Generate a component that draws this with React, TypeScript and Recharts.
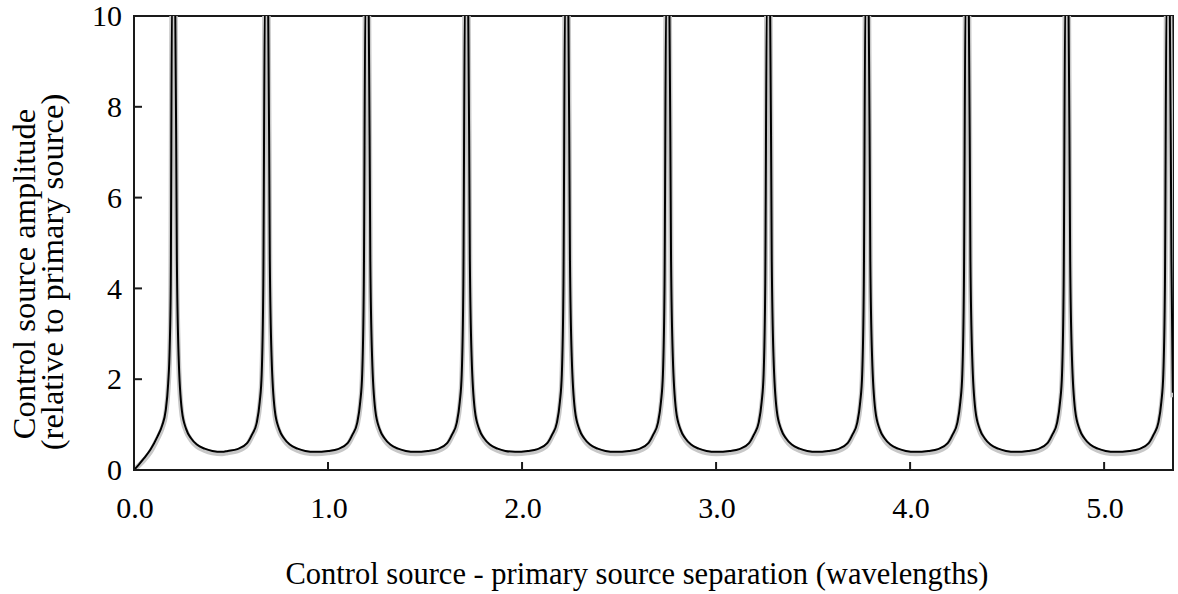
import React from "react";
import { LineChart, Line, XAxis, YAxis, ReferenceArea } from "recharts";

// Control source - primary source separation (wavelengths)
const separation = [
  0, 0.025, 0.052, 0.085, 0.12, 0.145, 0.163, 0.176, 0.184, 0.1895, 0.196,
  0.212, 0.221, 0.23, 0.247, 0.269, 0.294, 0.324, 0.364, 0.404, 0.454,
  0.483, 0.533, 0.583, 0.608, 0.633, 0.648, 0.658, 0.6665, 0.675,
  0.691, 0.7, 0.709, 0.726, 0.748, 0.773, 0.803, 0.843, 0.883, 0.933,
  1.001, 1.051, 1.101, 1.126, 1.151, 1.166, 1.176, 1.1845, 1.193,
  1.209, 1.218, 1.227, 1.244, 1.266, 1.291, 1.321, 1.361, 1.401, 1.451,
  1.514, 1.564, 1.614, 1.639, 1.664, 1.679, 1.689, 1.6975, 1.706,
  1.722, 1.731, 1.74, 1.757, 1.779, 1.804, 1.834, 1.874, 1.914, 1.964,
  2.03, 2.08, 2.13, 2.155, 2.18, 2.195, 2.205, 2.2135, 2.222,
  2.238, 2.247, 2.256, 2.273, 2.295, 2.32, 2.35, 2.39, 2.43, 2.48,
  2.551, 2.601, 2.651, 2.676, 2.701, 2.716, 2.726, 2.7345, 2.743,
  2.759, 2.768, 2.777, 2.794, 2.816, 2.841, 2.871, 2.911, 2.951, 3.001,
  3.07, 3.12, 3.17, 3.195, 3.22, 3.235, 3.245, 3.2535, 3.262,
  3.278, 3.287, 3.296, 3.313, 3.335, 3.36, 3.39, 3.43, 3.47, 3.52,
  3.578, 3.628, 3.678, 3.703, 3.728, 3.743, 3.753, 3.7615, 3.77,
  3.786, 3.795, 3.804, 3.821, 3.843, 3.868, 3.898, 3.938, 3.978, 4.028,
  4.094, 4.144, 4.194, 4.219, 4.244, 4.259, 4.269, 4.2775, 4.286,
  4.302, 4.311, 4.32, 4.337, 4.359, 4.384, 4.414, 4.454, 4.494, 4.544,
  4.608, 4.658, 4.708, 4.733, 4.758, 4.773, 4.783, 4.7915, 4.8,
  4.816, 4.825, 4.834, 4.851, 4.873, 4.898, 4.928, 4.968, 5.008, 5.058,
  5.13, 5.18, 5.23, 5.255, 5.28, 5.295, 5.305, 5.3135, 5.322,
  5.338, 5.347, 5.354,
];

// Black curve: control source amplitude (relative to primary source)
const amplitudeBlack = [
  0, 0.12, 0.26, 0.45, 0.73, 0.98, 1.3, 1.9, 2.7, 4.1, 10.5,
  10.5, 4.6, 2.5, 1.3, 0.9, 0.7, 0.56, 0.47, 0.42, 0.4,
  0.42, 0.46, 0.59, 0.78, 1.05, 1.5, 2.1, 4.1, 10.5,
  10.5, 4.6, 2.5, 1.3, 0.9, 0.7, 0.56, 0.47, 0.42, 0.4,
  0.42, 0.46, 0.59, 0.78, 1.05, 1.5, 2.1, 4.1, 10.5,
  10.5, 4.6, 2.5, 1.3, 0.9, 0.7, 0.56, 0.47, 0.42, 0.4,
  0.42, 0.46, 0.59, 0.78, 1.05, 1.5, 2.1, 4.1, 10.5,
  10.5, 4.6, 2.5, 1.3, 0.9, 0.7, 0.56, 0.47, 0.42, 0.4,
  0.42, 0.46, 0.59, 0.78, 1.05, 1.5, 2.1, 4.1, 10.5,
  10.5, 4.6, 2.5, 1.3, 0.9, 0.7, 0.56, 0.47, 0.42, 0.4,
  0.42, 0.46, 0.59, 0.78, 1.05, 1.5, 2.1, 4.1, 10.5,
  10.5, 4.6, 2.5, 1.3, 0.9, 0.7, 0.56, 0.47, 0.42, 0.4,
  0.42, 0.46, 0.59, 0.78, 1.05, 1.5, 2.1, 4.1, 10.5,
  10.5, 4.6, 2.5, 1.3, 0.9, 0.7, 0.56, 0.47, 0.42, 0.4,
  0.42, 0.46, 0.59, 0.78, 1.05, 1.5, 2.1, 4.1, 10.5,
  10.5, 4.6, 2.5, 1.3, 0.9, 0.7, 0.56, 0.47, 0.42, 0.4,
  0.42, 0.46, 0.59, 0.78, 1.05, 1.5, 2.1, 4.1, 10.5,
  10.5, 4.6, 2.5, 1.3, 0.9, 0.7, 0.56, 0.47, 0.42, 0.4,
  0.42, 0.46, 0.59, 0.78, 1.05, 1.5, 2.1, 4.1, 10.5,
  10.5, 4.6, 2.5, 1.3, 0.9, 0.7, 0.56, 0.47, 0.42, 0.4,
  0.42, 0.46, 0.59, 0.78, 1.05, 1.5, 2.1, 4.1, 10.5,
  10.5, 4.6, 1.7,
];

// Grey curve: companion result, slightly lower
const amplitudeGrey = [
  0, 0.1, 0.22, 0.4, 0.68, 0.92, 1.22, 1.8, 2.6, 3.9, 10.5,
  10.5, 4.4, 2.4, 1.22, 0.85, 0.66, 0.52, 0.43, 0.38, 0.36,
  0.38, 0.42, 0.55, 0.74, 1.0, 1.42, 2.0, 3.9, 10.5,
  10.5, 4.4, 2.4, 1.22, 0.85, 0.66, 0.52, 0.43, 0.38, 0.36,
  0.38, 0.42, 0.55, 0.74, 1.0, 1.42, 2.0, 3.9, 10.5,
  10.5, 4.4, 2.4, 1.22, 0.85, 0.66, 0.52, 0.43, 0.38, 0.36,
  0.38, 0.42, 0.55, 0.74, 1.0, 1.42, 2.0, 3.9, 10.5,
  10.5, 4.4, 2.4, 1.22, 0.85, 0.66, 0.52, 0.43, 0.38, 0.36,
  0.38, 0.42, 0.55, 0.74, 1.0, 1.42, 2.0, 3.9, 10.5,
  10.5, 4.4, 2.4, 1.22, 0.85, 0.66, 0.52, 0.43, 0.38, 0.36,
  0.38, 0.42, 0.55, 0.74, 1.0, 1.42, 2.0, 3.9, 10.5,
  10.5, 4.4, 2.4, 1.22, 0.85, 0.66, 0.52, 0.43, 0.38, 0.36,
  0.38, 0.42, 0.55, 0.74, 1.0, 1.42, 2.0, 3.9, 10.5,
  10.5, 4.4, 2.4, 1.22, 0.85, 0.66, 0.52, 0.43, 0.38, 0.36,
  0.38, 0.42, 0.55, 0.74, 1.0, 1.42, 2.0, 3.9, 10.5,
  10.5, 4.4, 2.4, 1.22, 0.85, 0.66, 0.52, 0.43, 0.38, 0.36,
  0.38, 0.42, 0.55, 0.74, 1.0, 1.42, 2.0, 3.9, 10.5,
  10.5, 4.4, 2.4, 1.22, 0.85, 0.66, 0.52, 0.43, 0.38, 0.36,
  0.38, 0.42, 0.55, 0.74, 1.0, 1.42, 2.0, 3.9, 10.5,
  10.5, 4.4, 2.4, 1.22, 0.85, 0.66, 0.52, 0.43, 0.38, 0.36,
  0.38, 0.42, 0.55, 0.74, 1.0, 1.42, 2.0, 3.9, 10.5,
  10.5, 4.4, 1.6,
];

const xTicks = [0, 1, 2, 3, 4, 5];
const xTickLabels = ["0.0", "1.0", "2.0", "3.0", "4.0", "5.0"];
const yTicks = [0, 2, 4, 6, 8, 10];
const xTitle = "Control source - primary source separation (wavelengths)";
const yTitleLines = ["Control source amplitude", "(relative to primary source)"];

const data = separation.map((x, i) => ({
  x,
  black: amplitudeBlack[i],
  grey: amplitudeGrey[i],
}));

const FONT = "'Liberation Serif', 'Times New Roman', serif";
const AXIS = "#1a1a1a";
const textStyle = { fontFamily: FONT };

const XTick = (props: any) => {
  const { x, y, payload } = props;
  const idx = xTicks.indexOf(payload.value);
  return (
    <g>
      <line x1={x} y1={y} x2={x} y2={y - 8} stroke={AXIS} strokeWidth={2} />
      <text x={x + 1} y={y + 48} textAnchor="middle" style={textStyle} fontSize={30} fill="#000">
        {idx >= 0 ? xTickLabels[idx] : String(payload.value)}
      </text>
    </g>
  );
};

const YTick = (props: any) => {
  const { x, y, payload } = props;
  return (
    <g>
      <line x1={x} y1={y} x2={x + 8} y2={y} stroke={AXIS} strokeWidth={2} />
      <text x={x - 12} y={y} dy="0.34em" textAnchor="end" style={textStyle} fontSize={30} fill="#000">
        {String(payload.value)}
      </text>
    </g>
  );
};

const XTitle = () => (
  <text x={637} y={584} textAnchor="middle" style={textStyle} fontSize={30.5} fill="#000">
    {xTitle}
  </text>
);

const YTitle = () => (
  <g>
    <text
      transform="translate(35,274) rotate(-90)"
      textAnchor="middle"
      style={textStyle}
      fontSize={32.5}
      fill="#000"
    >
      {yTitleLines[0]}
    </text>
    <text
      transform="translate(63,272) rotate(-90)"
      textAnchor="middle"
      style={textStyle}
      fontSize={32.5}
      fill="#000"
    >
      {yTitleLines[1]}
    </text>
  </g>
);

export default function App() {
  return (
    <div style={{ position: "absolute", left: 0, top: 0, width: 1178, height: 594, background: "#fff" }}>
      <LineChart
        width={1178}
        height={594}
        data={data}
        margin={{ top: 16, right: 5, bottom: 0, left: 0 }}
      >
        <ReferenceArea
          x1={0}
          x2={5.355}
          y1={0}
          y2={10}
          fill="none"
          stroke={AXIS}
          strokeWidth={2}
          ifOverflow="visible"
        />
        <XAxis
          dataKey="x"
          type="number"
          domain={[0, 5.355]}
          allowDataOverflow
          ticks={xTicks}
          interval={0}
          height={124}
          tickSize={0}
          tickMargin={0}
          tickLine={false}
          axisLine={{ stroke: AXIS, strokeWidth: 2 }}
          tick={<XTick />}
          label={XTitle}
        />
        <YAxis
          type="number"
          domain={[0, 10]}
          allowDataOverflow
          ticks={yTicks}
          interval={0}
          width={134}
          tickSize={0}
          tickMargin={0}
          tickLine={false}
          axisLine={{ stroke: AXIS, strokeWidth: 2 }}
          tick={<YTick />}
          label={YTitle}
        />
        <Line
          dataKey="grey"
          type="monotone"
          stroke="#c8c8c8"
          strokeWidth={5}
          dot={false}
          isAnimationActive={false}
        />
        <Line
          dataKey="black"
          type="monotone"
          stroke="#000"
          strokeWidth={2}
          dot={false}
          isAnimationActive={false}
        />
      </LineChart>
    </div>
  );
}
